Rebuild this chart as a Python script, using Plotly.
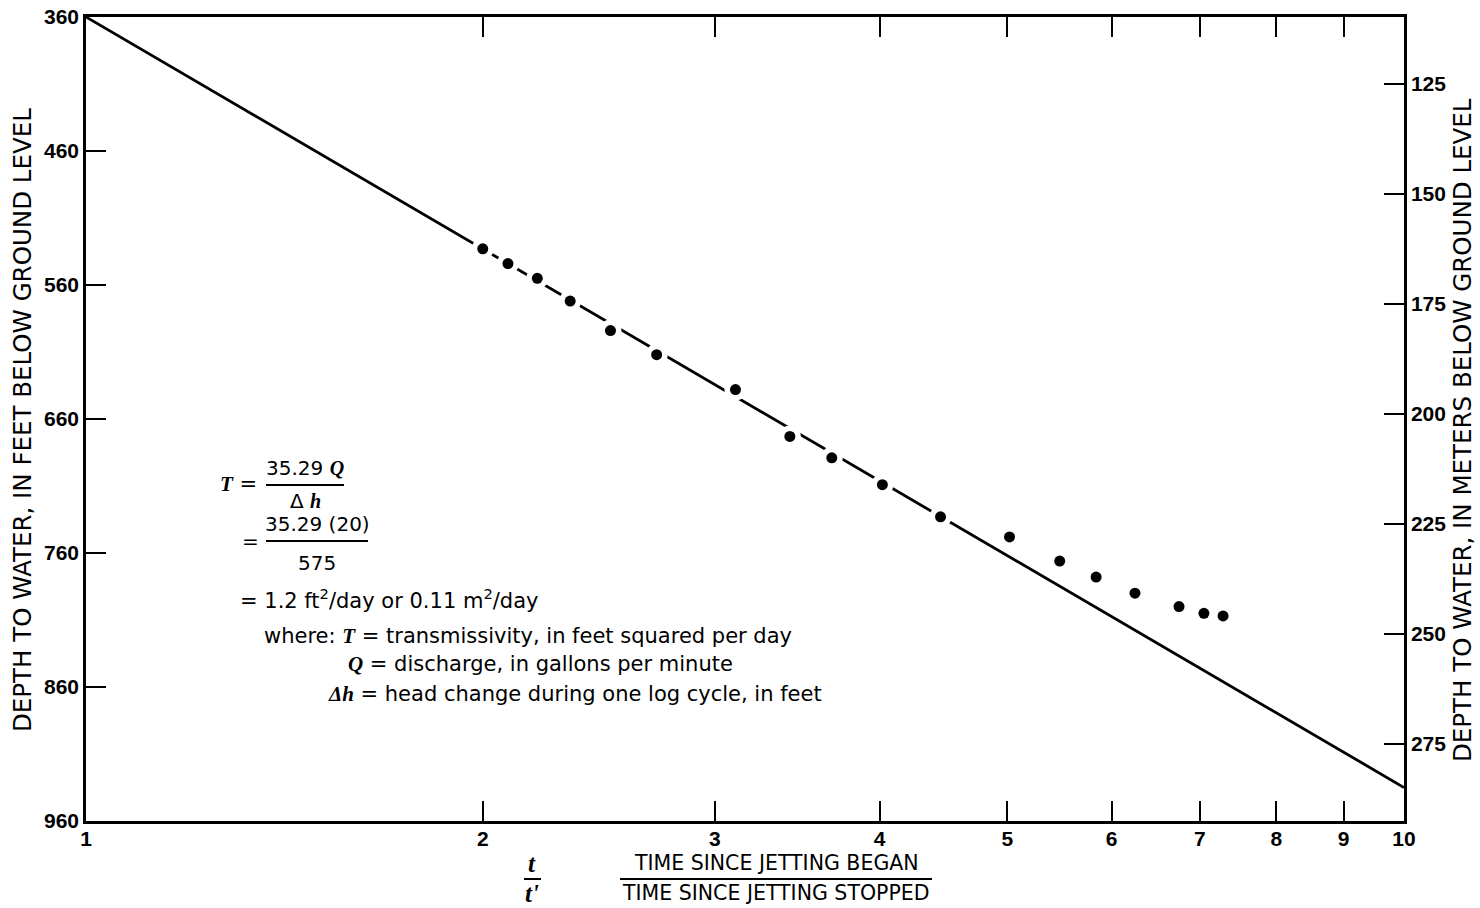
import plotly.graph_objects as go

# ---- data ----
ratio_t = [2.00, 2.09, 2.20, 2.33, 2.50, 2.71, 3.11, 3.42, 3.68, 4.02, 4.45,
           5.02, 5.48, 5.84, 6.25, 6.75, 7.05, 7.29]
depth_ft = [533, 544, 555, 572, 594, 612, 638, 673, 689, 709, 733,
            748, 766, 778, 790, 800, 805, 807]
fit_x = [1, 10]
fit_y = [360, 935]
x_ticks = [1, 2, 3, 4, 5, 6, 7, 8, 9, 10]
ft_ticks = [360, 460, 560, 660, 760, 860, 960]
m_ticks = [125, 150, 175, 200, 225, 250, 275]
FT_TO_M = 0.3048

# ---- layout geometry (page pixels) ----
W, H = 1480, 908
L, R, T, B = 86, 1404, 17, 821   # plot area in page pixels


def px(x):
    return (x - L) / (R - L)


def py(y):
    return (B - y) / (B - T)


SANS = "Liberation Sans, Arial, sans-serif"
WIDE = "DejaVu Sans, Verdana, sans-serif"
SERIF = "Liberation Serif, Times New Roman, serif"
FS = 21

fig = go.Figure()
fig.add_trace(go.Scatter(x=fit_x, y=fit_y, mode="lines",
                         line=dict(color="black", width=2.8), hoverinfo="skip"))
fig.add_trace(go.Scatter(x=ratio_t, y=depth_ft, mode="markers",
                         marker=dict(color="white", size=22), hoverinfo="skip"))
fig.add_trace(go.Scatter(x=ratio_t, y=depth_ft, mode="markers",
                         marker=dict(color="black", size=11), hoverinfo="skip"))
fig.add_trace(go.Scatter(x=[1, 10], y=[ft_ticks[0] * FT_TO_M, ft_ticks[-1] * FT_TO_M],
                         yaxis="y2", mode="markers", marker=dict(opacity=0),
                         hoverinfo="skip"))

axis_font = dict(family=SANS, size=21, color="black", weight="bold")
common = dict(ticks="inside", ticklen=20, tickwidth=2, tickcolor="black",
              showline=True, linewidth=2.5, linecolor="black",
              showgrid=False, zeroline=False, tickfont=axis_font,
              automargin=False, ticklabeloverflow="allow")

fig.update_layout(
    width=W, height=H,
    margin=dict(l=L, r=W - R, t=T, b=H - B),
    paper_bgcolor="white", plot_bgcolor="white",
    showlegend=False,
    xaxis=dict(type="log", range=[0, 1], tickvals=x_ticks,
               ticktext=[str(v) for v in x_ticks], mirror="ticks",
               ticklabelstandoff=-3, **common),
    yaxis=dict(range=[960, 360], tickvals=ft_ticks, **common),
    yaxis2=dict(overlaying="y", side="right",
                range=[960 * FT_TO_M, 360 * FT_TO_M], tickvals=m_ticks, **common),
)

ann = []


def text(x, y, s, anchor="left", size=FS, family=WIDE):
    ann.append(dict(xref="paper", yref="paper", x=px(x), y=py(y), text=s,
                    showarrow=False, xanchor=anchor, yanchor="middle",
                    font=dict(family=family, size=size, color="black")))


def it(s):
    return f'<span style="font-family:{SERIF}"><b><i>{s}</i></b></span>'


# axis titles
ann.append(dict(xref="paper", yref="paper", x=px(22), y=py(420),
                text="DEPTH TO WATER, IN FEET BELOW GROUND LEVEL",
                textangle=-90, showarrow=False, xanchor="center", yanchor="middle",
                font=dict(family=WIDE, size=24.5, color="black")))
ann.append(dict(xref="paper", yref="paper", x=px(1462), y=py(430),
                text="DEPTH TO WATER, IN METERS BELOW GROUND LEVEL",
                textangle=-90, showarrow=False, xanchor="center", yanchor="middle",
                font=dict(family=WIDE, size=24.5, color="black")))

# x title (fraction)
text(532, 863, it("t"), anchor="center", size=25)
text(532, 893, it("t'"), anchor="center", size=25)
text(776, 863, "TIME SINCE JETTING BEGAN", anchor="center", size=20.5)
text(776, 893, "TIME SINCE JETTING STOPPED", anchor="center", size=20.5)

# formula block
text(218, 484, it("T") + " =", size=21)
text(305, 468, "35.29 " + it("Q"), anchor="center", size=20)
text(305, 501, "Δ " + it("h"), anchor="center", size=20)
text(240, 541, "=", size=20)
text(317, 524, "35.29 (20)", anchor="center", size=20)
text(317, 563, "575", anchor="center", size=20)
text(238, 599, "= 1.2 ft<sup>2</sup>/day or 0.11 m<sup>2</sup>/day")
text(262, 636, "where: " + it("T") + " = transmissivity, in feet squared per day")
text(346, 664, it("Q") + " = discharge, in gallons per minute")
text(326, 694, it("Δh") + " = head change during one log cycle, in feet")

fig.update_layout(annotations=ann)

shapes = []
for x0, x1, y in [(266, 344, 485), (266, 368, 541), (524, 541, 879), (620, 932, 879)]:
    shapes.append(dict(type="line", xref="paper", yref="paper",
                       x0=px(x0), x1=px(x1), y0=py(y), y1=py(y),
                       line=dict(color="black", width=2)))
fig.update_layout(shapes=shapes)

fig.write_html("out.html", config={"displayModeBar": False},
               post_script="document.body.style.margin='0';document.body.style.overflow='hidden';")
